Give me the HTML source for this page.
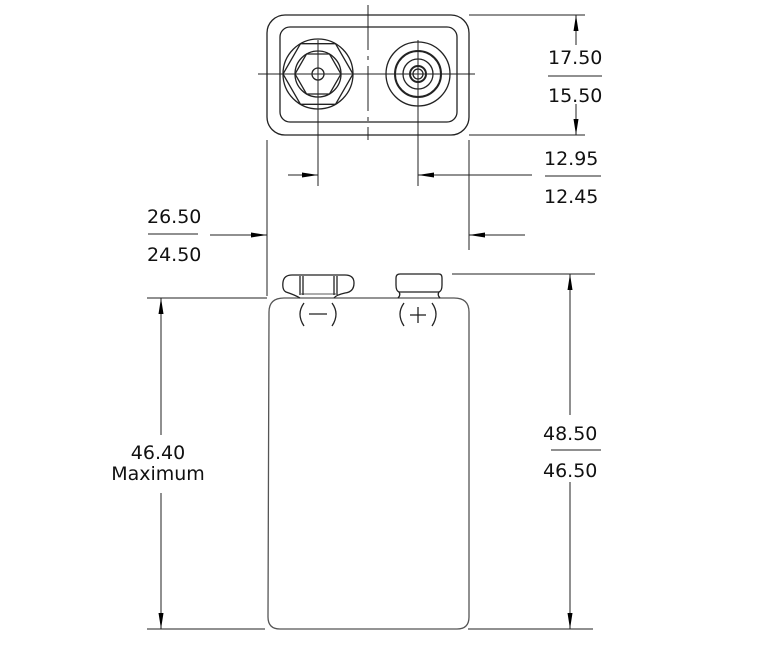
<!DOCTYPE html>
<html><head><meta charset="utf-8"><style>
html,body{margin:0;padding:0;background:#fff;}
svg{display:block;}
text{font-family:"DejaVu Sans","Liberation Sans",sans-serif;font-size:19px;fill:#111;}
</style></head><body>
<svg width="757" height="653" viewBox="0 0 757 653" xmlns="http://www.w3.org/2000/svg">
<defs>
<marker id="a" markerWidth="16" markerHeight="8" refX="16" refY="4" orient="auto" markerUnits="userSpaceOnUse">
<path d="M0,1.5 L16,4 L0,6.5 Z" fill="#000"/></marker>
</defs>
<g fill="none" stroke="#222" stroke-width="1.3">
<!-- top view -->
<rect x="267" y="15" width="202" height="120" rx="18"/>
<rect x="280" y="27" width="177" height="95" rx="10"/>
<!-- minus terminal -->
<circle cx="318" cy="74" r="35"/>
<polygon points="353,74 335.5,43.7 300.5,43.7 283,74 300.5,104.3 335.5,104.3"/>
<circle cx="318" cy="74" r="23"/>
<polygon points="341,74 329.5,54 306.5,54 295,74 306.5,94 329.5,94"/>
<circle cx="318" cy="74" r="6"/>
<!-- plus terminal -->
<circle cx="418" cy="74" r="32"/>
<circle cx="418" cy="74" r="23" stroke-width="2"/>
<circle cx="418" cy="74" r="15"/>
<circle cx="418" cy="74" r="8" stroke-width="2"/>
<circle cx="418" cy="74" r="5"/>
</g>
<g stroke="#222" stroke-width="1">
<line x1="258" y1="74" x2="475" y2="74"/>
<line x1="368" y1="5" x2="368" y2="140" stroke-dasharray="45,6,4,6"/>
<line x1="318" y1="40" x2="318" y2="186"/>
<line x1="418" y1="40" x2="418" y2="186"/>
<!-- 17.50 -->
<line x1="469" y1="15" x2="585" y2="15"/>
<line x1="469" y1="135" x2="585" y2="135"/>
<line x1="576" y1="45" x2="576" y2="15" marker-end="url(#a)"/>
<line x1="576" y1="104" x2="576" y2="135" marker-end="url(#a)"/>
<line x1="548" y1="76" x2="602" y2="76"/>
<!-- 12.95 -->
<line x1="288" y1="175" x2="318" y2="175" marker-end="url(#a)"/>
<line x1="532" y1="175" x2="418" y2="175" marker-end="url(#a)"/>
<line x1="545" y1="176" x2="601" y2="176"/>
<!-- 26.50 -->
<line x1="267" y1="140" x2="267" y2="296"/>
<line x1="469" y1="140" x2="469" y2="250"/>
<line x1="210" y1="235" x2="267" y2="235" marker-end="url(#a)"/>
<line x1="525" y1="235" x2="469" y2="235" marker-end="url(#a)"/>
<line x1="148" y1="234" x2="198" y2="234"/>
<!-- 46.40 -->
<line x1="147" y1="298" x2="267" y2="298"/>
<line x1="147" y1="629" x2="265" y2="629"/>
<line x1="161" y1="435" x2="161" y2="298" marker-end="url(#a)"/>
<line x1="161" y1="493" x2="161" y2="629" marker-end="url(#a)"/>
<!-- 48.50 -->
<line x1="452" y1="274" x2="595" y2="274"/>
<line x1="468" y1="629" x2="593" y2="629"/>
<line x1="570" y1="415" x2="570" y2="274" marker-end="url(#a)"/>
<line x1="570" y1="482" x2="570" y2="629" marker-end="url(#a)"/>
<line x1="551" y1="450" x2="601" y2="450"/>
</g>
<!-- side view -->
<g fill="none" stroke="#222" stroke-width="1.3">
<path d="M269,312 Q269,298 284,298 L454,298 Q469,298 469,312 L469,617 Q469,629 457,629 L280,629 Q268,629 268,617 Z" stroke="#555"/>
<path d="M300,298 Q295,295 286,292 Q282,290 283,282 Q284,275 292,275 L345,275 Q354,275 354,283 Q354,292 345,293 Q336,295 334,298"/>
<line x1="300" y1="276" x2="300" y2="295"/>
<line x1="303" y1="276" x2="303" y2="295"/>
<line x1="334" y1="276" x2="334" y2="295"/>
<line x1="337" y1="276" x2="337" y2="295"/>
<line x1="301" y1="294" x2="336" y2="294" stroke-width="0.8"/>
<path d="M398,298 Q401,295 399,292 Q396,291 396,285 L396,278 Q396,274 400,274 L439,274 Q442,274 442,278 L442,285 Q442,291 439,292 Q437,295 440,298"/>
<line x1="399" y1="292" x2="439" y2="292"/>
<path d="M304,303 Q296,314 304,326"/>
<path d="M332,303 Q340,314 332,326"/>
<line x1="309" y1="314" x2="327" y2="314"/>
<path d="M404,303 Q396,314 404,326"/>
<path d="M432,303 Q440,314 432,326"/>
<line x1="410" y1="315" x2="426" y2="315"/>
<line x1="418" y1="307" x2="418" y2="323"/>
</g>
<text x="548" y="64">17.50</text>
<text x="548" y="102">15.50</text>
<text x="544" y="165">12.95</text>
<text x="544" y="203">12.45</text>
<text x="147" y="223">26.50</text>
<text x="147" y="261">24.50</text>
<text x="543" y="440">48.50</text>
<text x="543" y="477">46.50</text>
<text x="158" y="459" text-anchor="middle">46.40</text>
<text x="158" y="480" text-anchor="middle">Maximum</text>
</svg>
</body></html>
